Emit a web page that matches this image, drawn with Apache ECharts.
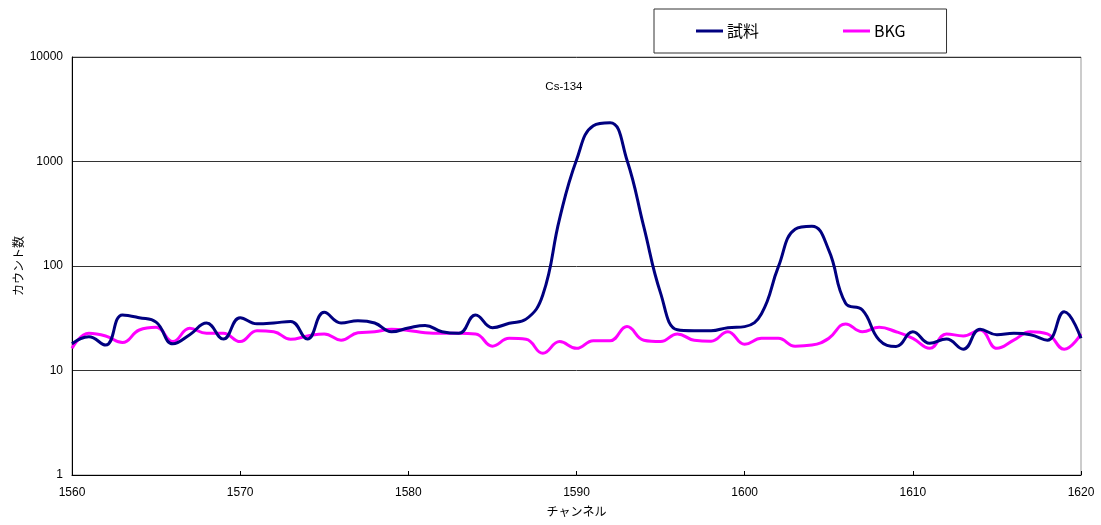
<!DOCTYPE html>
<html>
<head>
<meta charset="utf-8">
<script src="https://cdn.jsdelivr.net/npm/echarts@6/dist/echarts.min.js"></script>
<style>html,body{margin:0;padding:0;background:#fff;}#c{width:1101px;height:525px;}</style>
</head>
<body>
<div id="c"></div>
<script>
const channels = [1560,1561,1562,1563,1564,1565,1566,1567,1568,1569,1570,1571,1572,1573,1574,1575,1576,1577,1578,1579,1580,1581,1582,1583,1584,1585,1586,1587,1588,1589,1590,1591,1592,1593,1594,1595,1596,1597,1598,1599,1600,1601,1602,1603,1604,1605,1606,1607,1608,1609,1610,1611,1612,1613,1614,1615,1616,1617,1618,1619,1620];
const sample = [18,21,17.5,34,32,29,18,22,28.5,20,32,28,28.5,29.5,20,36,28.5,30,28.5,23.5,25.5,27,23.5,22.7,34,25.7,28.3,31,53,286,1034,2200,2350,1034,238,55,24.5,24,24,25.7,26.3,35,98,225,240,142,44,38,19.6,17,23.5,18.2,20,16,24.8,22,22.7,22,19.5,36.5,20.3];
const bkg = [16.3,22.7,21.4,18.5,24.4,25.9,18.9,25.3,22.7,22.7,18.9,24,23.5,19.9,21.4,22.4,19.5,23,23.5,24.8,24.2,23,22.7,22.7,22.4,17.1,20.3,19.9,14.6,18.9,16.3,19.3,19.3,26.3,19.5,18.9,22.4,19.5,19.1,23.5,17.8,20.3,20.3,17.1,17.5,20.3,27.9,23.5,25.9,23.5,20.3,16.3,22.4,21.4,24.4,16.3,19.5,23.5,22.4,16,22.4];
const seriesNames = ['試料','BKG'];
const annotation = {text:'Cs-134', channel:1589.25, value:5200};

const FONT = '"Liberation Sans", Arial, "Noto Sans CJK JP", sans-serif';
const JP = '"Noto Sans CJK JP", "Liberation Sans", sans-serif';

const chart = echarts.init(document.getElementById('c'), null, {renderer:'canvas'});
chart.setOption({
  animation:false,
  backgroundColor:'#fff',
  grid:{left:72,right:20,top:57,bottom:50,containLabel:false,outerBoundsMode:'none',show:true,borderColor:'#999',borderWidth:1,backgroundColor:'transparent'},
  legend:{
    data:seriesNames,
    left:654, top:9,
    padding:[14,41,14,42],
    itemGap:84,
    itemWidth:27, itemHeight:3,
    icon:'rect',
    borderColor:'#333', borderWidth:1,
    textStyle:{fontSize:16,color:'#000',fontFamily:JP, padding:[0,0,0,-1]}
  },
  xAxis:{
    type:'value', min:1560, max:1620, interval:10,
    name:'チャンネル', nameLocation:'middle', nameGap:30, nameMoveOverlap:false,
    nameTextStyle:{fontSize:12,color:'#000',fontFamily:JP},
    axisLine:{lineStyle:{color:'#000',width:1}},
    axisTick:{show:true,inside:true,length:4,lineStyle:{color:'#000'}},
    axisLabel:{fontSize:12,color:'#000',margin:12,fontFamily:FONT,formatter:v=>String(v)},
    splitLine:{show:false}
  },
  yAxis:{
    type:'log', logBase:10, min:1, max:10000,
    name:'カウント数', nameLocation:'middle', nameGap:48, nameRotate:90, nameMoveOverlap:false,
    nameTextStyle:{fontSize:12,color:'#000',fontFamily:JP},
    axisLine:{show:true,lineStyle:{color:'#000',width:1}},
    axisTick:{show:false},
    axisLabel:{fontSize:12,color:'#000',margin:9,fontFamily:FONT,formatter:v=>String(Math.round(v))},
    splitLine:{show:true,lineStyle:{color:'#333',width:1}},
    minorTick:{show:false}
  },
  series:[
    {
      name:seriesNames[0], type:'line', smooth:0.45, symbol:'none',
      data:channels.map((c,i)=>[c,sample[i]]),
      lineStyle:{color:'#000080',width:3}, itemStyle:{color:'#000080'},
      z:3,
      markPoint:{
        symbol:'circle', symbolSize:0,
        data:[{coord:[annotation.channel,annotation.value], value:annotation.text}],
        label:{show:true,position:'inside',formatter:annotation.text,fontSize:11.5,color:'#000',fontFamily:FONT}
      }
    },
    {
      name:seriesNames[1], type:'line', smooth:0.45, symbol:'none',
      data:channels.map((c,i)=>[c,bkg[i]]),
      lineStyle:{color:'#FF00FF',width:3}, itemStyle:{color:'#FF00FF'},
      z:2
    }
  ]
});
</script>
</body>
</html>
